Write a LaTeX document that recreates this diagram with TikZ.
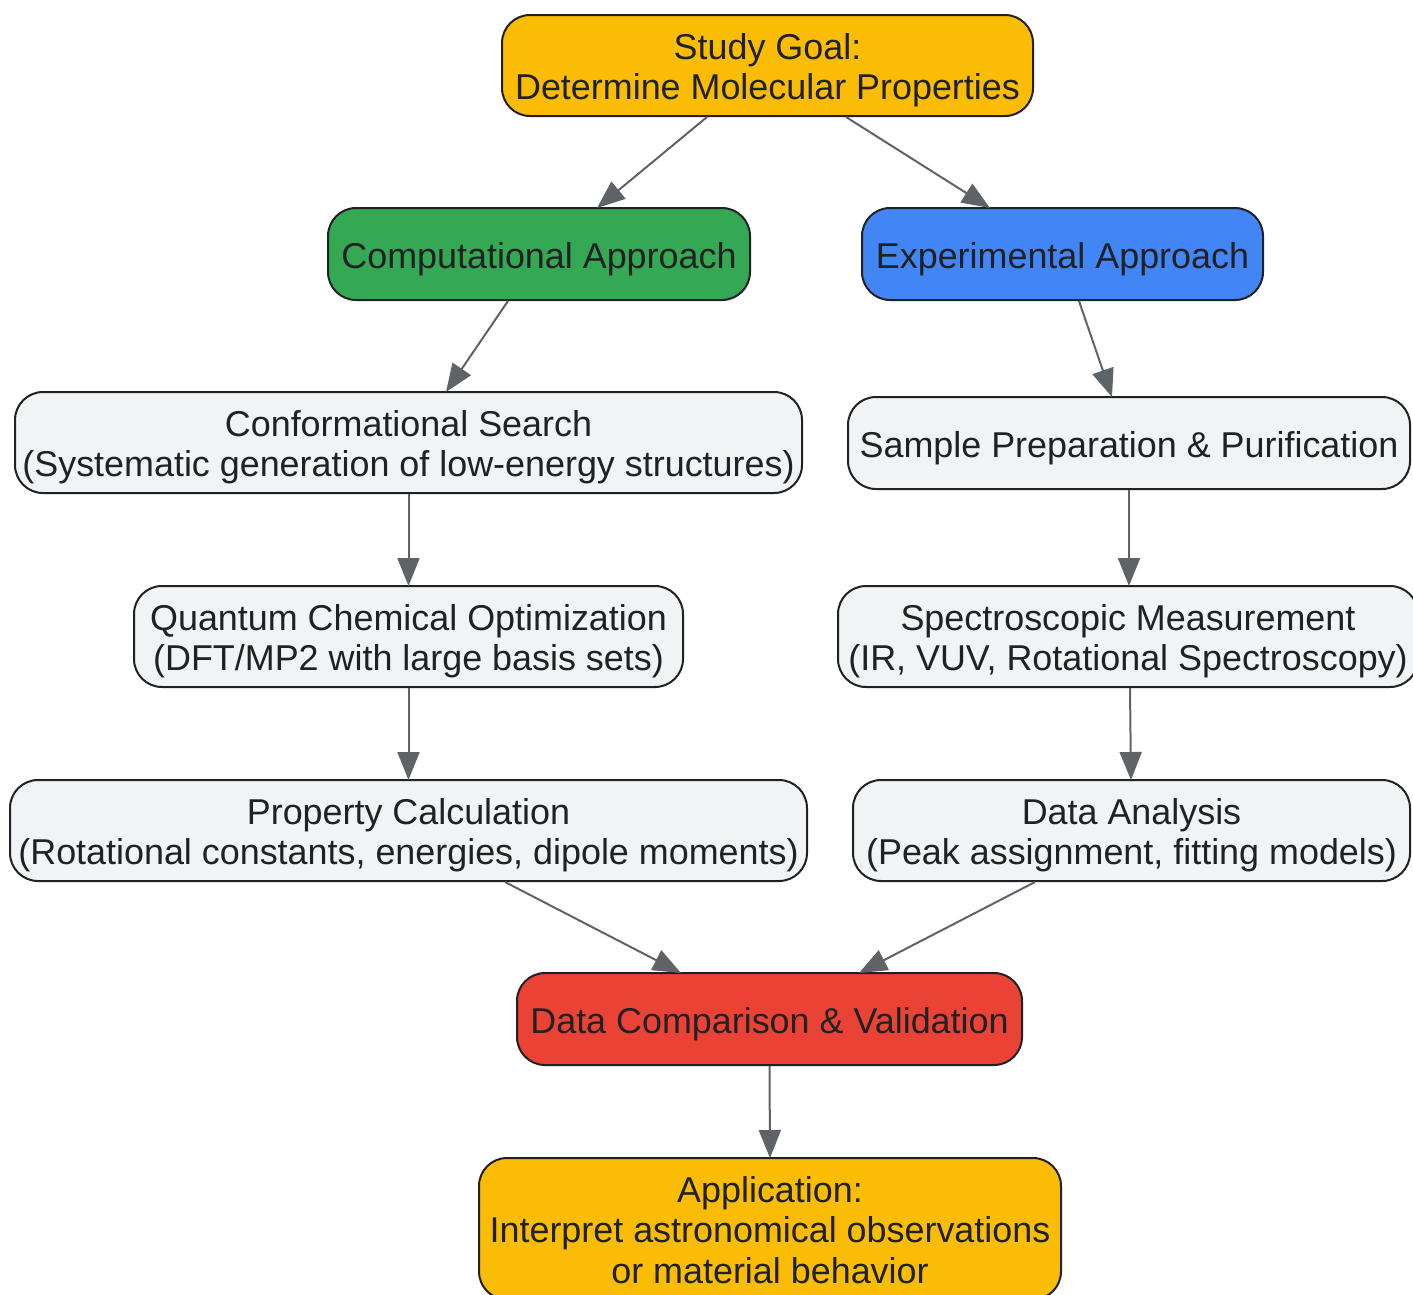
\documentclass[tikz,border=0pt]{standalone}
\usepackage{fontspec}
\setmainfont{Liberation Sans}
\usetikzlibrary{arrows.meta}
\definecolor{cgold}{HTML}{FBBC05}
\definecolor{cgreen}{HTML}{34A853}
\definecolor{cblue}{HTML}{4285F4}
\definecolor{cred}{HTML}{EA4335}
\definecolor{cgrey}{HTML}{F1F3F4}
\definecolor{cline}{HTML}{5F6368}
\definecolor{ctext}{HTML}{202124}
\newcommand\boxtxt[1]{\raisebox{-6pt}[\height][\depth]{\begin{tabular}{@{}c@{}}#1\end{tabular}}}
\tikzset{
  box/.style={draw=ctext, line width=2pt, rounded corners=28pt, inner sep=0pt,
    text=ctext, font=\fontsize{35.9}{40.4}\selectfont},
  conn/.style={draw=cline, line width=2pt, -{Triangle[length=28pt,width=22pt]}}
}
\begin{document}
\begin{tikzpicture}[x=1pt,y=-1pt]
\useasboundingbox (0,0) rectangle (1413,1294);
\clip (0,0) rectangle (1413,1294);
\node[box, fill=cgold, minimum width=531pt, minimum height=101pt] (study) at (767.5,65.5) {\boxtxt{Study Goal:\\Determine Molecular Properties}};
\node[box, fill=cgreen, minimum width=422pt, minimum height=92pt] (comp) at (539,254) {\boxtxt{Computational Approach}};
\node[box, fill=cblue, minimum width=401pt, minimum height=92pt] (exp) at (1062.5,254) {\boxtxt{Experimental Approach}};
\node[box, fill=cgrey, minimum width=787pt, minimum height=101pt] (conf) at (408.5,442.5) {\boxtxt{Conformational Search\\(Systematic generation of low-energy structures)}};
\node[box, fill=cgrey, minimum width=562pt, minimum height=92pt] (sample) at (1129,443) {\boxtxt{Sample Preparation \& Purification}};
\node[box, fill=cgrey, minimum width=549pt, minimum height=101pt] (quant) at (408.5,636.5) {\boxtxt{Quantum Chemical Optimization\\(DFT/MP2 with large basis sets)}};
\node[box, fill=cgrey, minimum width=580pt, minimum height=101pt] (spec) at (1128,636.5) {\boxtxt{Spectroscopic Measurement\\(IR, VUV, Rotational Spectroscopy)}};
\node[box, fill=cgrey, minimum width=797pt, minimum height=101pt] (prop) at (408.5,830.5) {\boxtxt{Property Calculation\\(Rotational constants, energies, dipole moments)}};
\node[box, fill=cgrey, minimum width=557pt, minimum height=101pt] (data) at (1131.5,830.5) {\boxtxt{Data Analysis\\(Peak assignment, fitting models)}};
\node[box, fill=cred, minimum width=505pt, minimum height=92pt] (cmp) at (769.5,1019) {\boxtxt{Data Comparison \& Validation}};
\node[box, fill=cgold, minimum width=582pt, minimum height=141.5pt] (app) at (770,1228.75) {\boxtxt{Application:\\Interpret astronomical observations\\or material behavior}};

\draw[conn] ([xshift=-60.5pt]study.south) -- ([xshift=58pt,yshift=-1pt]comp.north);
\draw[conn] ([xshift=78.5pt]study.south) -- ([xshift=-72.5pt,yshift=-1pt]exp.north);
\draw[conn] ([xshift=-31pt]comp.south) -- ([xshift=37.5pt,yshift=-1pt]conf.north);
\draw[conn] ([xshift=16.5pt]exp.south) -- ([xshift=-17pt,yshift=-1pt]sample.north);
\draw[conn] (conf.south) -- ([yshift=-1pt]quant.north);
\draw[conn] (sample.south) -- ([xshift=1pt,yshift=-1pt]spec.north);
\draw[conn] (quant.south) -- ([yshift=-1pt]prop.north);
\draw[conn] ([xshift=2pt]spec.south) -- ([xshift=-0.5pt,yshift=-1pt]data.north);
\draw[conn] ([xshift=96.5pt]prop.south) -- ([xshift=-88.5pt,yshift=-1pt]cmp.north);
\draw[conn] ([xshift=-96.5pt]data.south) -- ([xshift=89.5pt,yshift=-1pt]cmp.north);
\draw[conn] (cmp.south) -- ([yshift=-1pt]app.north);
\end{tikzpicture}
\end{document}
